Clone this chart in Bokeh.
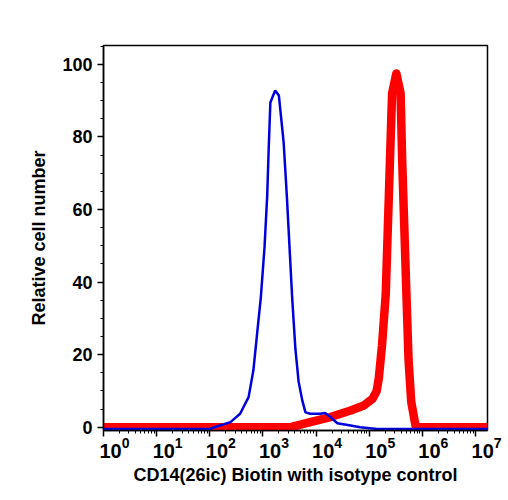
from bokeh.plotting import figure
from bokeh.models import (Range1d, LogAxis, LogScale, FixedTicker, SingleIntervalTicker,
                          LogTickFormatter)
from bokeh.embed import file_html
from bokeh.resources import INLINE

# Isotype control (blue) - fluorescence intensity vs relative cell number
iso_x = [1, 100, 135, 245, 372, 537, 661, 776, 912, 1072, 1202, 1288, 1380, 1698, 1995,
         2455, 2818, 3162, 3548, 4074, 4677, 5495, 6310, 7762, 12020, 14790, 18620,
         25120, 44670, 67610, 141300, 20000000]
iso_y = [-0.5, -0.5, 0.2, 1.4, 3.7, 8.3, 15.7, 25.7, 35.7, 49.7, 63.7, 77.5, 89.5, 92.8, 91.4,
         78.4, 63.7, 49.7, 35.7, 21.7, 12.7, 7.4, 4.1, 3.7, 3.7, 3.9, 2.8,
         1.1, 0.5, 0.0, -0.5, -0.5]

# CD14(26ic) Biotin (red)
cd14_x = [1, 3311, 7762, 18620, 44670, 79430, 114800, 138000, 151400, 173800, 204200,
          223900, 245500, 269200, 323600, 389000, 416900, 457100, 501200, 549500,
          616600, 741300, 831800, 20000000]
cd14_y = [0, 0, 1.4, 2.8, 4.6, 6.0, 7.8, 10.0, 13.5, 22.5, 36.5,
          55.0, 73.5, 92.0, 97.5, 92.0, 73.5, 55.0, 36.5, 18.5,
          7.0, 0.5, 0, 0]

x_major_ticks = [1, 10, 100, 1000, 10000, 100000, 1000000, 10000000]
y_tick_interval = 20

FONT = "Liberation Sans"

p = figure(width=508, height=500, x_axis_type="log",
           x_range=Range1d(1, 1.68e7), y_range=Range1d(-0.9, 105.2),
           output_backend="svg", toolbar_location=None,
           min_border_left=103, min_border_right=21, min_border_top=45, min_border_bottom=70)

p.background_fill_color = "white"
p.border_fill_color = "white"
p.outline_line_color = "black"
p.outline_line_width = 1.5
p.xgrid.visible = False
p.ygrid.visible = False

p.line(cd14_x, cd14_y, line_color="#ff0000", line_width=8.5, line_join="round")
p.line(iso_x, iso_y, line_color="#0000dd", line_width=2.5)

minor = [k * t for t in x_major_ticks for k in range(2, 10)]

xa = p.xaxis[0]
xa.ticker = FixedTicker(ticks=x_major_ticks, minor_ticks=minor)
xa.major_label_text_font_size = "1px"
xa.major_label_text_alpha = 0
xa.major_label_standoff = 0
xa.axis_line_color = "black"
xa.axis_line_width = 1.5
xa.major_tick_out = 6
xa.major_tick_in = 0
xa.minor_tick_out = 3
xa.minor_tick_in = 0
xa.major_tick_line_width = 1.5
xa.major_tick_line_color = "black"
xa.minor_tick_line_color = "black"

shift = 10 ** 0.207
p.extra_x_ranges = {"lab": Range1d(1 / shift, 1.68e7 / shift)}
p.extra_x_scales = {"lab": LogScale()}
lab = LogAxis(x_range_name="lab", ticker=FixedTicker(ticks=x_major_ticks, minor_ticks=[]),
              formatter=LogTickFormatter())
lab.axis_line_color = None
lab.major_tick_out = 0
lab.major_tick_in = 0
lab.minor_tick_out = 0
lab.minor_tick_in = 0
lab.major_label_standoff = 0
lab.major_label_text_font = FONT
lab.major_label_text_font_style = "bold"
lab.major_label_text_font_size = "20px"
lab.major_label_text_color = "black"
lab.axis_label = "CD14(26ic) Biotin with isotype control"
lab.axis_label_text_font = FONT
lab.axis_label_text_font_style = "bold"
lab.axis_label_text_font_size = "18px"
lab.axis_label_text_color = "black"
lab.axis_label_standoff = 4
p.add_layout(lab, "below")

ya = p.yaxis[0]
ya.ticker = SingleIntervalTicker(interval=y_tick_interval, num_minor_ticks=4)
ya.axis_line_color = "black"
ya.axis_line_width = 1.5
ya.major_tick_out = 6
ya.major_tick_in = 0
ya.minor_tick_out = 3
ya.minor_tick_in = 0
ya.major_tick_line_width = 1.5
ya.major_tick_line_color = "black"
ya.minor_tick_line_color = "black"
ya.major_label_standoff = 5
ya.major_label_text_font = FONT
ya.major_label_text_font_style = "bold"
ya.major_label_text_font_size = "18px"
ya.major_label_text_color = "black"
ya.axis_label = "Relative cell number"
ya.axis_label_text_font = FONT
ya.axis_label_text_font_style = "bold"
ya.axis_label_text_font_size = "18px"
ya.axis_label_text_color = "black"
ya.axis_label_standoff = 10

open("out.html", "w").write(file_html(p, INLINE))
